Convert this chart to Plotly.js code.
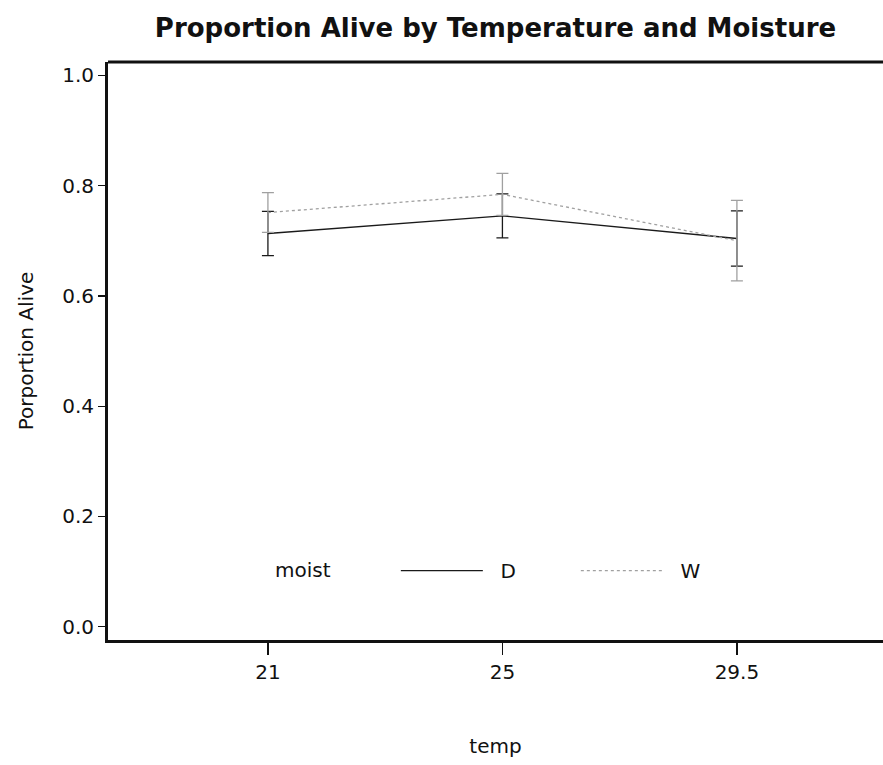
<!DOCTYPE html>
<html>
<head>
<meta charset="utf-8">
<script src="https://cdn.plot.ly/plotly-3.0.1.min.js"></script>
<style>html,body{margin:0;padding:0;background:#fff;overflow:hidden}#chart{width:883px;height:765px}</style>
</head>
<body>
<div id="chart"></div>
<script>
var temps = ["21", "25", "29.5"];
var dryMean = [0.713, 0.745, 0.704];
var dryErr = [0.040, 0.040, 0.050];
var wetMean = [0.751, 0.784, 0.700];
var wetErr = [0.036, 0.038, 0.073];
var yTicks = [0, 0.2, 0.4, 0.6, 0.8, 1.0];
var yTickText = ["0.0", "0.2", "0.4", "0.6", "0.8", "1.0"];
var seriesNames = ["\u00a0\u00a0D", "\u00a0\u00a0W"];
var legendTitle = "moist";

var font = "DejaVu Sans, Verdana, sans-serif";
var traces = [
  {x: temps, y: dryMean, name: seriesNames[0], type: "scatter", mode: "lines",
   line: {color: "#1a1a1a", width: 1.3},
   error_y: {type: "data", array: dryErr, visible: true, color: "#1a1a1a", thickness: 1.3, width: 6}},
  {x: temps, y: wetMean, name: seriesNames[1], type: "scatter", mode: "lines",
   line: {color: "#a0a0a0", width: 1.3, dash: "dot"},
   error_y: {type: "data", array: wetErr, visible: true, color: "#a0a0a0", thickness: 1.3, width: 6}}
];
var layout = {
  width: 883, height: 765,
  margin: {l: 108, r: 0, t: 62, b: 125},
  paper_bgcolor: "#fff", plot_bgcolor: "#fff",
  font: {family: font, color: "#111", size: 20},
  title: {text: "<b>Proportion Alive by Temperature and Moisture</b>", font: {family: font, size: 26, color: "#111"},
          xref: "paper", x: 0.5, xanchor: "center", y: 0.963, yanchor: "middle"},
  xaxis: {type: "category", range: [-0.682, 2.623], showgrid: false, zeroline: false,
          showline: true, linecolor: "#111", linewidth: 3, ticks: "outside", ticklen: 12, tickwidth: 1.3, tickcolor: "#111",
          tickfont: {size: 20}, title: {text: "temp", font: {size: 20}, standoff: 56}},
  yaxis: {range: [-0.024, 1.024], tickvals: yTicks, ticktext: yTickText, showgrid: false, zeroline: false,
          showline: true, linecolor: "#111", linewidth: 3, ticks: "outside", ticklen: 7, tickwidth: 1.3, tickcolor: "#111",
          tickfont: {size: 20}, title: {text: "Porportion Alive", font: {size: 20}, standoff: 24}},
  shapes: [{type: "line", xref: "paper", yref: "paper", x0: 0, x1: 1, y0: 1, y1: 1, line: {color: "#111", width: 3}}],
  showlegend: true,
  legend: {orientation: "h", x: 0.213, xanchor: "left", y: 0.12, yanchor: "middle",
           bgcolor: "rgba(0,0,0,0)", font: {size: 20}, itemwidth: 82, entrywidth: 83,
           title: {text: legendTitle + "\u00a0\u00a0\u00a0\u00a0\u00a0\u00a0\u00a0\u00a0\u00a0", font: {size: 20}, side: "left"}}
};
Plotly.newPlot("chart", traces, layout, {displayModeBar: false, staticPlot: true});
</script>
</body>
</html>
